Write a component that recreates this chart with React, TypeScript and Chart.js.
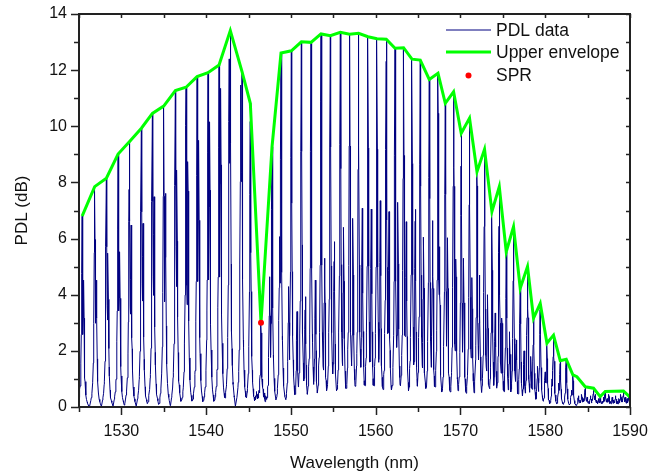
import React, { useEffect, useRef } from 'react';
import { Chart, registerables } from 'chart.js';

Chart.register(...registerables);

// ---- Data ----
const mainPeakNm = [
  1525.37, 1526.85, 1528.23, 1529.61, 1530.94, 1532.36, 1533.66, 1534.99, 1536.37, 1537.63,
  1538.93, 1540.22, 1541.52, 1542.85, 1544.23, 1545.21, 1546.47, 1547.77, 1548.83, 1550.05,
  1551.23, 1552.37, 1553.55, 1554.65, 1555.83, 1556.92, 1557.98, 1559.09, 1560.15, 1561.25,
  1562.28, 1563.29, 1564.28, 1565.26, 1566.32, 1567.35, 1568.21, 1569.19, 1570.09, 1571.07,
  1571.95, 1572.84, 1573.71, 1574.58, 1575.40, 1576.26, 1577.05, 1577.91, 1578.62, 1579.41,
  1580.20, 1580.98, 1581.77, 1582.48, 1583.27, 1584.72, 1585.70, 1586.49, 1587.08, 1589.23,
];
const mainPeakDb = [
  6.80, 7.85, 8.15, 9.01, 9.45, 9.93, 10.46, 10.72, 11.27, 11.39,
  11.77, 11.91, 12.18, 13.41, 11.95, 10.82, 3.00, 9.27, 12.61, 12.69,
  13.01, 12.99, 13.29, 13.23, 13.35, 13.28, 13.31, 13.19, 13.12, 13.10,
  12.78, 12.80, 12.39, 12.36, 11.67, 11.89, 10.82, 11.23, 9.75, 10.29,
  8.38, 9.18, 6.96, 7.85, 5.53, 6.42, 4.23, 5.00, 3.16, 3.69,
  2.27, 2.56, 1.65, 1.70, 1.14, 0.72, 0.67, 0.37, 0.55, 0.57,
];
const sidePeakNm = [
  1525.55, 1527.05, 1528.42, 1529.80, 1531.15, 1532.55, 1533.85, 1535.20, 1536.55, 1537.85,
  1539.12, 1540.42, 1541.72, 1542.72, 1544.08, 1546.65, 1547.49, 1548.67, 1549.73, 1550.72,
  1551.70, 1552.88, 1553.97, 1555.12, 1556.22, 1557.32, 1558.42, 1559.48, 1560.54, 1561.57,
  1562.63, 1563.61, 1564.67, 1565.65, 1566.71, 1567.53, 1568.48, 1569.47, 1570.37, 1571.36,
  1572.25, 1573.20, 1574.10, 1574.90, 1575.80, 1576.60, 1577.50, 1578.30, 1579.10, 1580.00,
  1580.80, 1581.60, 1582.40, 1583.10,
];
const sidePeakDb = [
  4.52, 4.52, 5.48, 5.53, 6.48, 6.54, 7.49, 7.61, 8.44, 8.74,
  9.50, 10.16, 11.35, 12.40, 11.47, 1.00, 4.64, 6.07, 4.29, 3.40,
  3.93, 4.52, 5.30, 5.89, 6.40, 6.72, 7.08, 7.05, 7.35, 6.96,
  7.29, 6.60, 7.04, 6.05, 6.64, 5.71, 6.03, 5.27, 5.30, 4.61,
  4.70, 4.00, 3.35, 3.17, 2.68, 2.39, 2.00, 1.80, 1.45, 1.25,
  1.00, 0.85, 0.70, 0.60,
];
const noiseNm = [
  1545.45, 1545.60, 1545.80, 1545.95, 1546.10, 1546.25, 1546.85, 1547.05,
  1583.90, 1584.10, 1584.30, 1584.50, 1584.95, 1585.15, 1585.35, 1585.55, 1585.90, 1586.10,
  1586.30, 1586.70, 1586.90, 1587.30, 1587.50, 1587.70, 1587.90, 1588.10, 1588.30, 1588.50,
  1588.70, 1588.90, 1589.05, 1589.45, 1589.65, 1589.85,
];
const noiseDb = [
  0.35, 0.50, 0.40, 0.55, 0.45, 0.60, 0.50, 0.40,
  0.40, 0.25, 0.45, 0.30, 0.35, 0.20, 0.40, 0.30, 0.45, 0.25,
  0.30, 0.20, 0.35, 0.30, 0.45, 0.20, 0.35, 0.25, 0.40, 0.20,
  0.30, 0.45, 0.25, 0.35, 0.30, 0.40,
];
// Measured shape of a single fringe (offset from its top, fraction of its height)
const lineShapeOffsetNm = [-0.6, -0.45, -0.33, -0.24, -0.16, -0.1, -0.05, 0, 0.05, 0.1, 0.16, 0.24, 0.33, 0.45, 0.6];
const lineShapeFraction = [0, 0.03, 0.06, 0.11, 0.2, 0.38, 0.7, 1, 0.7, 0.38, 0.2, 0.11, 0.06, 0.03, 0];

const envelopeNm = [
  1525.37, 1526.85, 1528.23, 1529.61, 1530.94, 1532.36, 1533.66, 1534.99, 1536.37, 1537.63,
  1538.93, 1540.22, 1541.52, 1542.85, 1544.23, 1545.21, 1546.47, 1547.77, 1548.83, 1550.05,
  1551.23, 1552.37, 1553.55, 1554.65, 1555.83, 1556.92, 1557.98, 1559.09, 1560.15, 1561.25,
  1562.28, 1563.29, 1564.28, 1565.26, 1566.32, 1567.35, 1568.21, 1569.19, 1570.09, 1571.07,
  1571.95, 1572.84, 1573.71, 1574.58, 1575.40, 1576.26, 1577.05, 1577.91, 1578.62, 1579.41,
  1580.20, 1580.98, 1581.77, 1582.48, 1583.27, 1583.74, 1584.72, 1585.70, 1586.49, 1587.08,
  1589.23, 1590.00,
];
const envelopeDb = [
  6.80, 7.85, 8.15, 9.01, 9.45, 9.93, 10.46, 10.72, 11.27, 11.39,
  11.77, 11.91, 12.18, 13.41, 11.95, 10.82, 3.00, 9.27, 12.61, 12.69,
  13.01, 12.99, 13.29, 13.23, 13.35, 13.28, 13.31, 13.19, 13.12, 13.10,
  12.78, 12.80, 12.39, 12.36, 11.67, 11.89, 10.82, 11.23, 9.75, 10.29,
  8.38, 9.18, 6.96, 7.85, 5.53, 6.42, 4.23, 5.00, 3.16, 3.69,
  2.27, 2.56, 1.65, 1.70, 1.14, 1.08, 0.72, 0.67, 0.37, 0.55,
  0.57, 0.35,
];
const sprNm = [1546.47];
const sprDb = [3.0];

const xTickLabels = [1530, 1540, 1550, 1560, 1570, 1580, 1590];
const yTickLabels = [0, 2, 4, 6, 8, 10, 12, 14];
const seriesLabels = ['PDL data', 'Upper envelope', 'SPR'];
const xTitle = 'Wavelength (nm)';
const yTitle = 'PDL (dB)';

const X_MIN = 1525;
const X_MAX = 1590;

function shapeAt(d: number): number {
  const o = lineShapeOffsetNm;
  if (d <= o[0] || d >= o[o.length - 1]) return 0;
  for (let i = 0; i < o.length - 1; i++) {
    if (d >= o[i] && d <= o[i + 1]) {
      const t = (d - o[i]) / (o[i + 1] - o[i]);
      return lineShapeFraction[i] + t * (lineShapeFraction[i + 1] - lineShapeFraction[i]);
    }
  }
  return 0;
}

function buildSpectrum() {
  const peaks: { p: number; h: number }[] = [];
  mainPeakNm.forEach((p, i) => peaks.push({ p, h: mainPeakDb[i] }));
  sidePeakNm.forEach((p, i) => peaks.push({ p, h: sidePeakDb[i] }));
  noiseNm.forEach((p, i) => peaks.push({ p, h: noiseDb[i] }));
  const xs = new Set<number>();
  xs.add(X_MIN);
  xs.add(X_MAX);
  peaks.forEach(({ p }) => {
    lineShapeOffsetNm.forEach((o) => {
      const x = Math.round((p + o) * 1000) / 1000;
      if (x >= X_MIN && x <= X_MAX) xs.add(x);
    });
  });
  const sorted = Array.from(xs).sort((a, b) => a - b);
  return sorted.map((x) => {
    let y = 0.03;
    for (const pk of peaks) {
      const v = pk.h * shapeAt(x - pk.p);
      if (v > y) y = v;
    }
    return { x, y };
  });
}

const FONT = "'Liberation Sans', Arial, Helvetica, sans-serif";

export default function App() {
  const ref = useRef<HTMLCanvasElement | null>(null);

  useEffect(() => {
    document.body.style.margin = '0';
    const canvas = ref.current;
    if (!canvas) return;

    const decorPlugin = {
      id: 'decor',
      afterDraw(chart: any) {
        const { ctx, chartArea } = chart;
        const xs = chart.scales.x;
        const ys = chart.scales.y;
        const { left, right, top, bottom } = chartArea;
        ctx.save();
        ctx.strokeStyle = '#222';
        ctx.lineWidth = 1.5;
        const xMinor = xTickLabels.map((v) => v - 5);
        const yMinor = yTickLabels.slice(0, -1).map((v) => v + 1);
        ctx.beginPath();
        xTickLabels.forEach((v) => {
          const px = Math.round(xs.getPixelForValue(v)) + 0.5;
          ctx.moveTo(px, bottom); ctx.lineTo(px, bottom + 8);
          ctx.moveTo(px, top); ctx.lineTo(px, top + 4);
        });
        xMinor.forEach((v) => {
          const px = Math.round(xs.getPixelForValue(v)) + 0.5;
          ctx.moveTo(px, bottom); ctx.lineTo(px, bottom + 5);
          ctx.moveTo(px, top); ctx.lineTo(px, top + 4);
        });
        yTickLabels.forEach((v) => {
          const py = Math.round(ys.getPixelForValue(v)) + 0.5;
          ctx.moveTo(left, py); ctx.lineTo(left - 8, py);
          ctx.moveTo(right, py); ctx.lineTo(right - 4, py);
        });
        yMinor.forEach((v) => {
          const py = Math.round(ys.getPixelForValue(v)) + 0.5;
          ctx.moveTo(left, py); ctx.lineTo(left - 5, py);
          ctx.moveTo(right, py); ctx.lineTo(right - 4, py);
        });
        ctx.stroke();
        ctx.lineWidth = 2;
        ctx.strokeRect(left, top, right - left, bottom - top);

        // legend
        const lx0 = 446, lx1 = 491, tx = 496;
        const rows = [30, 52, 75.5];
        ctx.font = `17.5px ${FONT}`;
        ctx.textBaseline = 'middle';
        ctx.textAlign = 'left';
        ctx.beginPath();
        ctx.strokeStyle = '#000080';
        ctx.lineWidth = 1;
        ctx.moveTo(lx0, rows[0]); ctx.lineTo(lx1, rows[0]);
        ctx.stroke();
        ctx.beginPath();
        ctx.strokeStyle = '#00ff00';
        ctx.lineWidth = 3;
        ctx.moveTo(lx0, rows[1]); ctx.lineTo(lx1, rows[1]);
        ctx.stroke();
        ctx.beginPath();
        ctx.fillStyle = '#ff0000';
        ctx.arc((lx0 + lx1) / 2, rows[2], 3, 0, Math.PI * 2);
        ctx.fill();
        ctx.fillStyle = '#111';
        seriesLabels.forEach((s, i) => ctx.fillText(s, tx, rows[i] + 1));
        ctx.restore();
      },
    };

    const chart = new Chart(canvas, {
      type: 'line',
      data: {
        datasets: [
          {
            label: seriesLabels[0],
            data: buildSpectrum(),
            borderColor: '#000080',
            borderWidth: 1,
            pointRadius: 0,
            tension: 0,
            order: 3,
          },
          {
            label: seriesLabels[1],
            data: envelopeNm.map((x, i) => ({ x, y: envelopeDb[i] })),
            borderColor: '#00ff00',
            borderWidth: 3,
            pointRadius: 0,
            tension: 0,
            order: 2,
          },
          {
            label: seriesLabels[2],
            data: sprNm.map((x, i) => ({ x, y: sprDb[i] })),
            showLine: false,
            pointRadius: 3,
            pointBackgroundColor: '#ff0000',
            pointBorderColor: '#ff0000',
            pointBorderWidth: 0,
            order: 1,
          },
        ] as any,
      },
      options: {
        responsive: false,
        animation: false,
        devicePixelRatio: 1,
        layout: { padding: { left: 0, right: 22, top: 14, bottom: 0 } },
        plugins: { legend: { display: false }, tooltip: { enabled: false } },
        scales: {
          x: {
            type: 'linear',
            min: X_MIN,
            max: X_MAX,
            grid: { display: false, drawTicks: false },
            border: { display: false },
            ticks: {
              stepSize: 10,
              includeBounds: false,
              autoSkip: false,
              maxRotation: 0,
              padding: 15,
              color: '#111',
              font: { family: FONT, size: 16 },
              callback: (v: any) => (xTickLabels.includes(Number(v)) ? String(v) : ''),
            },
            title: {
              display: true,
              text: xTitle,
              color: '#111',
              font: { family: FONT, size: 17 },
              padding: { top: 0, bottom: 1 },
            },
            afterFit: (s: any) => { s.height = 68; s.paddingLeft = 0; s.paddingRight = 0; },
          },
          y: {
            min: 0,
            max: 14,
            grid: { display: false, drawTicks: false },
            border: { display: false },
            ticks: {
              stepSize: 2,
              padding: 12,
              color: '#111',
              font: { family: FONT, size: 16 },
              callback: (v: any) => (yTickLabels.includes(Number(v)) ? String(v) : ''),
            },
            title: {
              display: true,
              text: yTitle,
              color: '#111',
              font: { family: FONT, size: 17 },
              padding: { top: 12, bottom: 0 },
            },
            afterFit: (s: any) => { s.width = 79; s.paddingTop = 0; s.paddingBottom = 0; },
          },
        },
      } as any,
      plugins: [decorPlugin],
    });

    return () => chart.destroy();
  }, []);

  return (
    <div style={{ position: 'absolute', left: 0, top: 0, width: 652, height: 475, background: '#fff' }}>
      <canvas ref={ref} width={652} height={475} style={{ width: 652, height: 475, display: 'block' }} />
    </div>
  );
}
